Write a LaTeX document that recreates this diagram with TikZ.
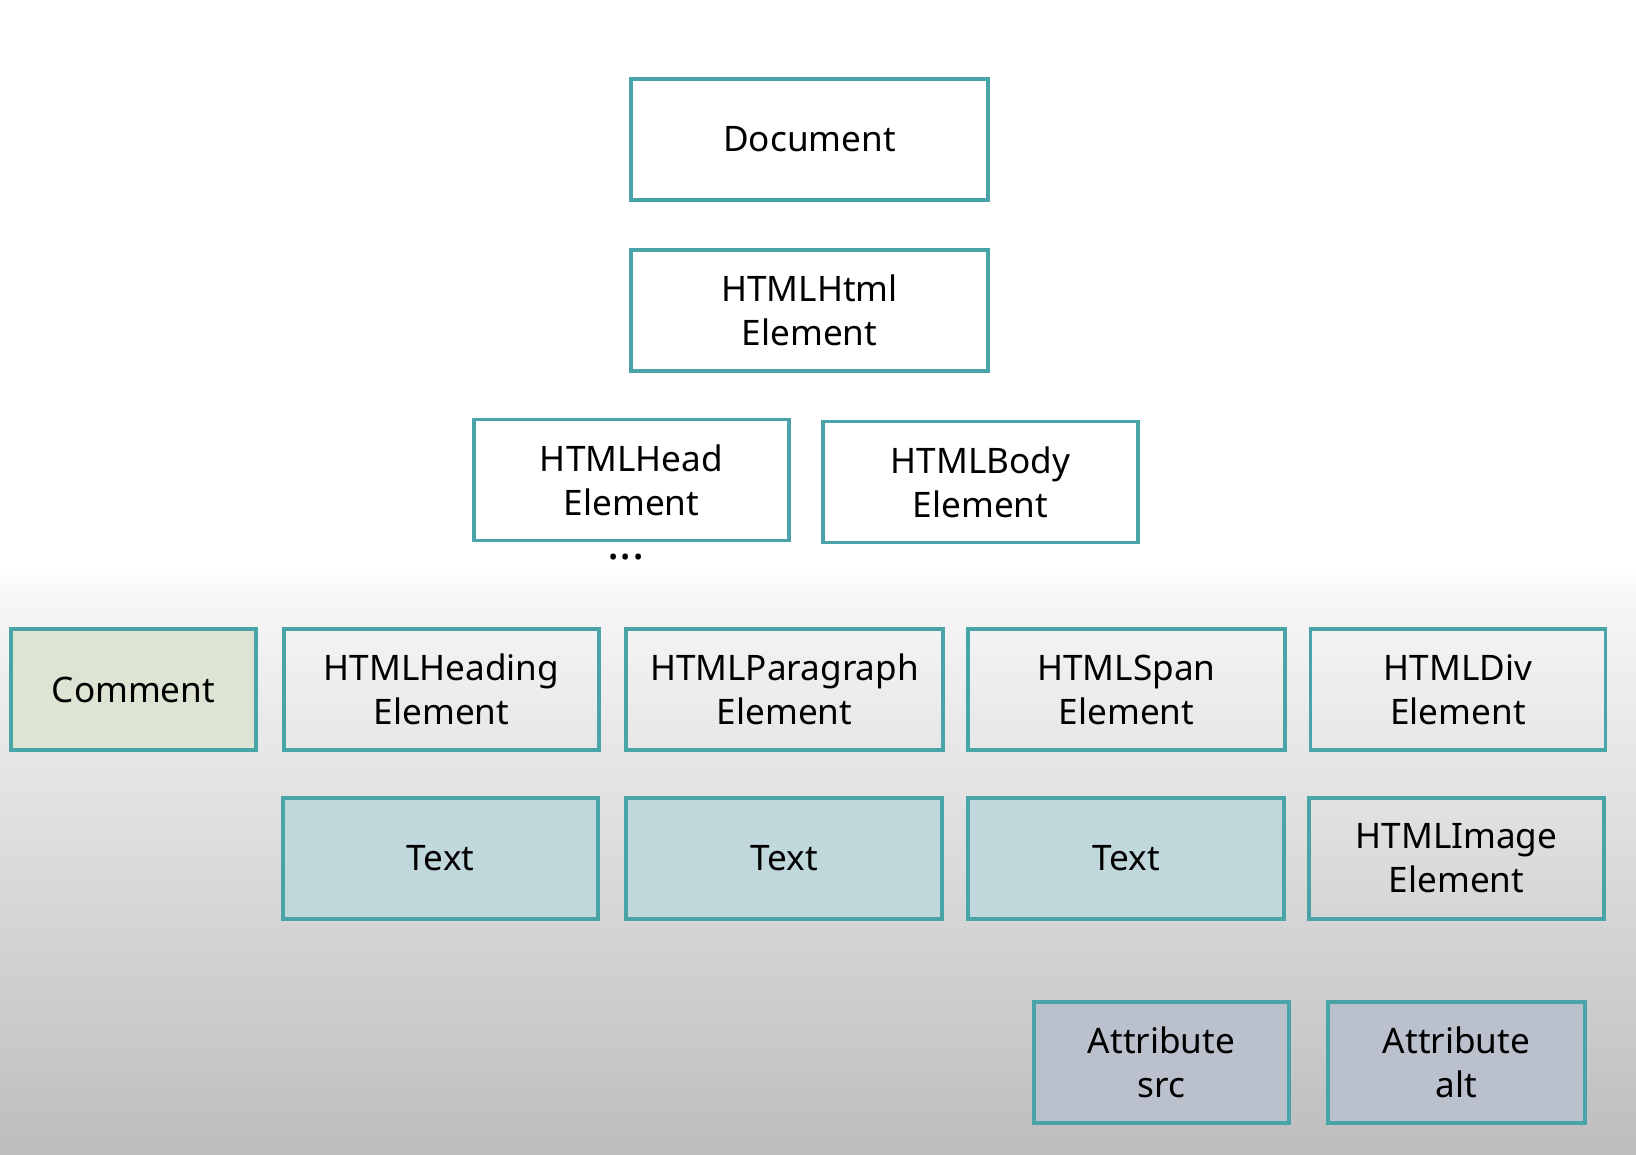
\documentclass[tikz,border=0pt]{standalone}
\usepackage{fontspec}
\setmainfont{Noto Sans}
\definecolor{edge}{RGB}{72,164,167}
\definecolor{commentfill}{RGB}{221,228,211}
\definecolor{textfill}{RGB}{192,216,220}
\definecolor{attrfill}{RGB}{186,193,204}
\definecolor{bgtop}{RGB}{246,246,246}
\definecolor{bgbottom}{RGB}{189,189,189}
\begin{document}
\begin{tikzpicture}[x=0.02cm, y=-0.02cm,
    box/.style={draw=edge, line width=2pt, align=center, inner sep=0pt,
      minimum height=2.42cm, font=\fontsize{20}{25}\selectfont},
    wide/.style={box, minimum width=6.3cm},
    narrow/.style={box, minimum width=5.9cm}]
  \useasboundingbox (0,0) rectangle (1636,1154);
  \fill[white] (0,0) rectangle (1636,1154);
  \shade[top color=white, bottom color=bgtop] (0,565) rectangle (1636,600);
  \shade[top color=bgtop, bottom color=bgbottom] (0,600) rectangle (1636,1154);

  \node[box, minimum width=7.14cm] (document) at (809.5,139.5) {Document};
  \node[box, minimum width=7.14cm] (html) at (809.5,310.5) {HTMLHtml\\Element};
  \node[wide] (head) at (631.5,480) {HTMLHead\\Element};
  \node[wide] (body) at (980.5,482) {HTMLBody\\Element};
  \node[font=\fontsize{26}{30}\selectfont\bfseries, inner sep=0pt] (headdots) at (626,557) {...};

  \node[box, fill=commentfill, minimum width=4.9cm] (comment) at (133.5,689.5) {Comment};
  \node[wide] (heading) at (441.5,689.5) {HTMLHeading\\Element};
  \node[wide, minimum width=6.34cm] (paragraph) at (784.5,689.5) {HTMLParagraph\\Element};
  \node[wide, minimum width=6.34cm] (span) at (1126.5,689.5) {HTMLSpan\\Element};
  \node[narrow] (div) at (1458,689.5) {HTMLDiv\\Element};

  \node[wide, fill=textfill] (text1) at (440.5,858.5) {Text};
  \node[wide, fill=textfill, minimum width=6.32cm] (text2) at (784,858.5) {Text};
  \node[wide, fill=textfill, minimum width=6.32cm] (text3) at (1126,858.5) {Text};
  \node[narrow] (image) at (1456.5,858.5) {HTMLImage\\Element};

  \node[box, fill=attrfill, minimum width=5.1cm] (src) at (1161.5,1062.5) {Attribute\\src};
  \node[box, fill=attrfill, minimum width=5.14cm] (alt) at (1456.5,1062.5) {Attribute\\alt};
\end{tikzpicture}
\end{document}
